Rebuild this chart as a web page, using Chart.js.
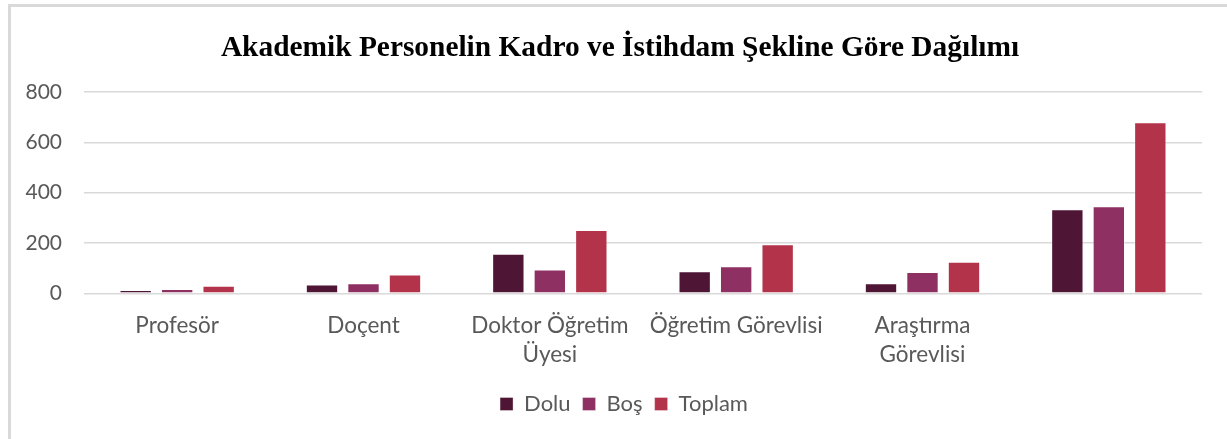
<!DOCTYPE html>
<html>
<head>
<meta charset="utf-8">
<script src="https://cdn.jsdelivr.net/npm/chart.js@4.4.1/dist/chart.umd.min.js"></script>
<style>
  html, body { margin: 0; padding: 0; background: #ffffff; }
  #wrap { position: relative; width: 1227px; height: 439px; overflow: hidden; }
  #frame { position: absolute; left: 8px; top: 4px; right: -10px; bottom: -10px;
           border-left: 3px solid #d9d9d9; border-top: 3px solid #d9d9d9; pointer-events: none; }
  canvas { position: absolute; left: 0; top: 0; }
</style>
</head>
<body>
<div id="wrap">
  <canvas id="c" width="1227" height="439"></canvas>
  <div id="frame"></div>
</div>
<script>
const chartTitle = 'Akademik Personelin Kadro ve İstihdam Şekline Göre Dağılımı';
const categories = ['Profesör', 'Doçent', ['Doktor Öğretim', 'Üyesi'], 'Öğretim Görevlisi', ['Araştırma', 'Görevlisi'], ''];
const seriesNames = ['Dolu', 'Boş', 'Toplam'];
const dolu = [13, 35, 157, 88, 40, 334];
const bos = [17, 40, 95, 107, 85, 346];
const toplam = [30, 75, 252, 195, 125, 680];
const yTicks = [0, 200, 400, 600, 800];
const colors = ['#4f1535', '#8e3062', '#b2334a'];

const FONT = 'Lato, "Open Sans", sans-serif';
const TXT = '#595959';

const shiftBoxes = {
  id: 'shiftBoxes',
  afterLayout(chart) {
    const lg = chart.legend;
    if (lg) { lg.left += 23; lg.right += 23; }
    const tb = chart.titleBlock;
    if (tb) { tb.left += 19; tb.right += 19; }
  }
};

new Chart(document.getElementById('c'), {
  type: 'bar',
  plugins: [shiftBoxes],
  data: {
    labels: categories,
    datasets: [dolu, bos, toplam].map((d, i) => ({
      label: seriesNames[i],
      data: d,
      backgroundColor: colors[i],
      borderColor: 'rgba(255,255,255,0.35)',
      borderWidth: 1,
      categoryPercentage: 0.668,
      barPercentage: 0.78
    }))
  },
  options: {
    responsive: false,
    animation: false,
    devicePixelRatio: 1,
    layout: { padding: { left: 0, right: 25, top: 0, bottom: 14 } },
    plugins: {
      title: {
        display: true,
        text: chartTitle,
        color: '#000000',
        font: { family: '"Liberation Serif", "Times New Roman", serif', size: 29.4, weight: 'bold', lineHeight: 1.2 },
        padding: { top: 31, bottom: 25.7 }
      },
      legend: {
        position: 'bottom',
        labels: {
          color: TXT,
          font: { family: FONT, size: 22 },
          boxWidth: 13,
          boxHeight: 13,
          padding: 12
        }
      },
      tooltip: { enabled: false }
    },
    scales: {
      x: {
        grid: { display: false, drawTicks: false },
        border: { display: false },
        ticks: {
          color: TXT,
          font: { family: FONT, size: 22.5, lineHeight: 1.28 },
          padding: 18,
          maxRotation: 0,
          minRotation: 0,
          autoSkip: false
        },
        afterFit: (s) => { s.height = 87.7; }
      },
      y: {
        min: 0,
        max: 800,
        afterBuildTicks: (s) => { s.ticks = yTicks.map(v => ({ value: v })); },
        grid: { color: '#d9d9d9', lineWidth: 1.6, drawTicks: false },
        border: { display: false },
        ticks: {
          color: TXT,
          font: { family: FONT, size: 21 },
          padding: 22
        },
        afterFit: (s) => { s.width = 84; }
      }
    }
  }
});
</script>
</body>
</html>
